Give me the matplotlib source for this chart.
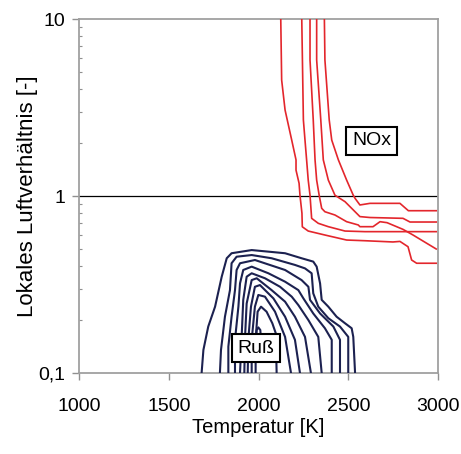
import numpy as np
import matplotlib.pyplot as plt
from matplotlib.ticker import FixedLocator, FixedFormatter, LogLocator, NullFormatter

plt.rcParams['font.family'] = ['Liberation Sans', 'DejaVu Sans']

# NOx isolines (temperature in K, local air ratio)
nox_a_T = [2124, 2129, 2148, 2185, 2209, 2209, 2226, 2231, 2242, 2244, 2277, 2370, 2491, 2593, 2749, 2788, 2833, 2853, 2881, 2990]
nox_a_L = [10, 4.52, 3.06, 2.07, 1.60, 1.40, 1.18, 1.01, 0.80, 0.67, 0.634, 0.602, 0.564, 0.559, 0.550, 0.554, 0.517, 0.435, 0.417, 0.417]
nox_b_T = [2241, 2250, 2259, 2268, 2277, 2287, 2296, 2333, 2389, 2482, 2593, 2990]
nox_b_L = [10, 2.69, 2.07, 1.60, 1.23, 1.01, 0.748, 0.701, 0.671, 0.634, 0.629, 0.629]
nox_c_T = [2287, 2287, 2305, 2310, 2315, 2324, 2338, 2352, 2370, 2426, 2491, 2556, 2565, 2638, 2677, 2716, 2805, 2861, 2990]
nox_c_L = [10, 5.87, 2.69, 2.07, 1.60, 1.23, 1.01, 0.852, 0.815, 0.781, 0.716, 0.686, 0.671, 0.671, 0.716, 0.707, 0.648, 0.602, 0.502]
nox_d_T = [2324, 2324, 2347, 2361, 2389, 2426, 2482, 2519, 2565, 2621, 2805, 2844, 2990]
nox_d_L = [10, 5.87, 2.69, 1.60, 1.23, 1.01, 0.929, 0.852, 0.765, 0.756, 0.748, 0.713, 0.713]
nox_e_T = [2367, 2370, 2394, 2408, 2445, 2491, 2528, 2538, 2565, 2621, 2788, 2835, 2990]
nox_e_L = [10, 5.87, 2.69, 2.07, 1.60, 1.23, 1.01, 0.970, 0.890, 0.909, 0.909, 0.826, 0.826]

# soot isolines
rus1_T = [1683, 1693, 1720, 1758, 1795, 1823, 1850, 1962, 2148, 2240, 2305, 2324, 2343, 2352, 2389, 2435, 2482, 2519, 2528, 2538]
rus1_L = [0.1, 0.135, 0.183, 0.237, 0.350, 0.445, 0.475, 0.495, 0.475, 0.445, 0.426, 0.399, 0.321, 0.259, 0.237, 0.208, 0.191, 0.179, 0.160, 0.1]
rus2_T = [1785, 1791, 1813, 1841, 1850, 1878, 1962, 2073, 2203, 2259, 2296, 2305, 2333, 2389, 2454, 2500, 2500]
rus2_L = [0.1, 0.135, 0.208, 0.294, 0.417, 0.454, 0.464, 0.445, 0.408, 0.390, 0.366, 0.282, 0.237, 0.204, 0.183, 0.160, 0.1]
rus3_T = [1832, 1832, 1850, 1869, 1878, 1897, 1980, 2148, 2240, 2278, 2287, 2343, 2417, 2454, 2454]
rus3_L = [0.1, 0.141, 0.208, 0.294, 0.382, 0.417, 0.435, 0.382, 0.335, 0.307, 0.259, 0.217, 0.183, 0.154, 0.1]
rus4_T = [1869, 1869, 1888, 1897, 1915, 1962, 2055, 2148, 2222, 2250, 2305, 2370, 2408, 2408]
rus4_L = [0.1, 0.154, 0.237, 0.321, 0.382, 0.399, 0.366, 0.328, 0.294, 0.264, 0.217, 0.179, 0.154, 0.1]
rus5_T = [1897, 1906, 1915, 1934, 1962, 2036, 2120, 2185, 2222, 2278, 2333, 2352]
rus5_L = [0.1, 0.160, 0.259, 0.350, 0.366, 0.343, 0.307, 0.270, 0.242, 0.199, 0.160, 0.1]
rus6_T = [1921, 1925, 1934, 1962, 1990, 2073, 2148, 2203, 2259, 2292]
rus6_L = [0.1, 0.160, 0.247, 0.335, 0.343, 0.294, 0.253, 0.208, 0.160, 0.1]
rus7_T = [1940, 1943, 1958, 1980, 2008, 2083, 2148, 2203, 2231]
rus7_L = [0.1, 0.154, 0.237, 0.307, 0.314, 0.264, 0.208, 0.154, 0.1]
rus8_T = [1962, 1962, 1980, 1999, 2036, 2092, 2148, 2181]
rus8_L = [0.1, 0.154, 0.237, 0.276, 0.270, 0.222, 0.160, 0.1]
rus9_T = [1984, 1984, 1995, 2014, 2045, 2077, 2096, 2101]
rus9_L = [0.1, 0.154, 0.222, 0.237, 0.222, 0.191, 0.168, 0.1]
rus10_T = [1986, 1990, 1999, 2010, 2014]
rus10_L = [0.154, 0.175, 0.181, 0.175, 0.154]

x_ticks = [1000, 1500, 2000, 2500, 3000]
y_ticks = [0.1, 1, 10]
y_ticklabels = ['0,1', '1', '10']

nox_lines = [(nox_a_T, nox_a_L), (nox_b_T, nox_b_L), (nox_c_T, nox_c_L),
             (nox_d_T, nox_d_L), (nox_e_T, nox_e_L)]
rus_lines = [(rus1_T, rus1_L), (rus2_T, rus2_L), (rus3_T, rus3_L), (rus4_T, rus4_L),
             (rus5_T, rus5_L), (rus6_T, rus6_L), (rus7_T, rus7_L), (rus8_T, rus8_L),
             (rus9_T, rus9_L), (rus10_T, rus10_L)]

fig = plt.figure(figsize=(4.61, 4.54), dpi=100)
ax = fig.add_axes([0.1714, 0.1784, 0.7787, 0.7797])

for T, L in nox_lines:
    ax.plot(T, L, color='#e3262c', lw=1.2, zorder=3, solid_joinstyle='round')
for T, L in rus_lines:
    ax.plot(T, L, color='#1c2150', lw=1.5, zorder=3, solid_joinstyle='round')

ax.axhline(1, color='black', lw=0.9, zorder=2)

ax.set_yscale('log')
ax.set_xlim(1000, 3000)
ax.set_ylim(0.1, 10)

ax.xaxis.set_major_locator(FixedLocator(x_ticks))
ax.yaxis.set_major_locator(FixedLocator(y_ticks))
ax.yaxis.set_major_formatter(FixedFormatter(y_ticklabels))
ax.yaxis.set_minor_locator(LogLocator(base=10, subs=np.arange(2, 10)))
ax.yaxis.set_minor_formatter(NullFormatter())
ax.xaxis.set_minor_locator(FixedLocator([]))

for s in ax.spines.values():
    s.set_color('#a0a0a0')
    s.set_linewidth(1.3)

ax.tick_params(which='major', direction='out', length=5, width=1, color='#909090', labelsize=14)
ax.tick_params(axis='x', which='major', pad=13)
ax.tick_params(axis='y', which='major', pad=5)
ax.tick_params(axis='y', which='minor', direction='in', length=2, width=0.8, color='#909090')

ax.set_xlabel('Temperatur [K]', fontsize=14.5, labelpad=2)
ax.set_ylabel('Lokales Luftverhältnis [-]', fontsize=16, labelpad=0)

box = dict(boxstyle='square,pad=0.3', facecolor='white', edgecolor='black', lw=1.5)
ax.text(2631, 2.05, 'NOx', fontsize=14, ha='center', va='center', bbox=box, zorder=5)
ax.text(1986, 0.1384, 'Ruß', fontsize=14, ha='center', va='center', bbox=box, zorder=5)

fig.savefig('out.png', dpi=100)
